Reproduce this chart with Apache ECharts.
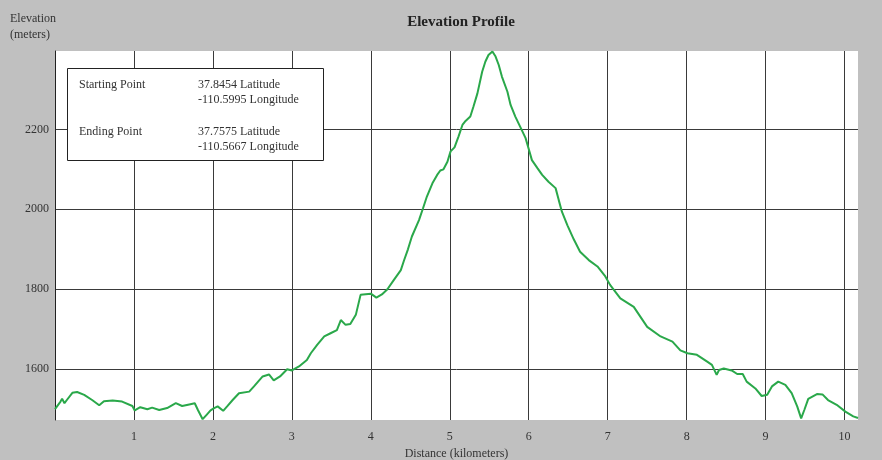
<!DOCTYPE html>
<html>
<head>
<meta charset="utf-8">
<script src="https://cdn.jsdelivr.net/npm/echarts@6/dist/echarts.min.js"></script>
<style>
html,body{margin:0;padding:0;background:#c0c0c0;}
#chart{width:882px;height:460px;}
</style>
</head>
<body>
<div id="chart"></div>
<script>
// Distance along the profile (km)
const distanceKm = [0.00,0.02,0.07,0.09,0.12,0.15,0.22,0.28,0.37,0.47,0.56,0.62,0.73,0.85,0.98,1.01,1.08,1.17,1.23,1.32,1.42,1.53,1.61,1.70,1.77,1.81,1.87,1.92,1.97,2.01,2.06,2.13,2.18,2.25,2.33,2.46,2.52,2.63,2.71,2.77,2.85,2.94,3.00,3.09,3.19,3.24,3.32,3.41,3.49,3.57,3.62,3.68,3.74,3.81,3.87,3.89,4.00,4.07,4.14,4.21,4.29,4.38,4.42,4.47,4.52,4.61,4.66,4.71,4.78,4.84,4.88,4.92,4.97,5.01,5.06,5.11,5.16,5.20,5.26,5.30,5.35,5.41,5.45,5.49,5.54,5.58,5.62,5.66,5.73,5.77,5.83,5.90,5.96,6.01,6.04,6.11,6.17,6.25,6.34,6.38,6.42,6.49,6.57,6.65,6.76,6.87,6.97,7.03,7.16,7.33,7.50,7.67,7.82,7.92,8.01,8.13,8.26,8.32,8.38,8.41,8.47,8.57,8.64,8.71,8.76,8.87,8.95,9.02,9.08,9.16,9.25,9.33,9.40,9.45,9.49,9.54,9.65,9.72,9.79,9.90,10.01,10.11,10.17];
// Elevation (m)
const elevationM = [1500,1502,1519,1526,1515,1523,1541,1543,1536,1523,1510,1520,1522,1519,1508,1497,1505,1500,1504,1498,1503,1515,1508,1512,1515,1498,1475,1486,1497,1502,1507,1496,1507,1523,1540,1544,1557,1582,1587,1572,1582,1600,1597,1607,1623,1640,1661,1682,1690,1698,1723,1711,1713,1736,1786,1790,1789,1779,1787,1800,1823,1848,1872,1900,1932,1973,2002,2032,2065,2086,2097,2100,2119,2145,2155,2182,2211,2221,2232,2257,2290,2344,2369,2386,2395,2382,2361,2332,2294,2261,2232,2203,2178,2144,2123,2103,2086,2069,2053,2023,1994,1960,1925,1894,1873,1857,1832,1811,1777,1756,1706,1682,1669,1647,1640,1636,1619,1611,1586,1598,1602,1597,1588,1588,1569,1552,1533,1536,1557,1569,1561,1540,1507,1477,1498,1526,1538,1537,1523,1511,1494,1482,1478];
// Axis ranges and ticks
const xMin = 0, xMax = 10.17, xStep = 1;
const yMin = 1473, yMax = 2396, yStep = 200;
// Info box text
const infoLabels = ['Starting Point', 'Ending Point'];
const infoLat = ['37.8454 Latitude', '37.7575 Latitude'];
const infoLon = ['-110.5995 Longitude', '-110.5667 Longitude'];

const seriesData = distanceKm.map((d, i) => [d, elevationM[i]]);
const serif = '"Liberation Serif", "DejaVu Serif", serif';
const txt = '#333';

const chart = echarts.init(document.getElementById('chart'));
chart.setOption({
  backgroundColor: '#c0c0c0',
  animation: false,
  title: {
    text: 'Elevation Profile',
    left: 456, top: 10, textAlign: 'center',
    textStyle: { fontFamily: serif, fontSize: 15, fontWeight: 'bold', color: '#222' }
  },
  grid: {
    left: 55, right: 24, top: 51, bottom: 40,
    show: true, backgroundColor: '#ffffff', borderWidth: 0,
    containLabel: false, outerBoundsMode: 'none'
  },
  xAxis: {
    type: 'value', min: xMin, max: xMax, interval: xStep,
    name: 'Distance (kilometers)', nameLocation: 'middle', nameGap: 26,
    nameTextStyle: { fontFamily: serif, fontSize: 12, color: txt },
    axisLine: { show: false },
    axisTick: { show: false },
    axisLabel: {
      fontFamily: serif, fontSize: 12, color: txt, margin: 11,
      formatter: v => (v > 0 && Math.abs(v - Math.round(v)) < 1e-6) ? String(Math.round(v)) : ''
    },
    splitLine: { show: true, showMinLine: true, showMaxLine: false, lineStyle: { color: '#3a3a3a', width: 1 } }
  },
  yAxis: {
    type: 'value', min: yMin, max: yMax,
    axisLine: { show: true, lineStyle: { color: '#222', width: 1 } },
    axisTick: { show: false },
    axisLabel: {
      fontFamily: serif, fontSize: 12, color: txt, margin: 6,
      showMinLabel: false, showMaxLabel: false,
      formatter: v => (v % yStep === 0) ? String(v) : ''
    },
    splitLine: { show: true, showMinLine: false, showMaxLine: false, lineStyle: { color: '#3a3a3a', width: 1 } }
  },
  series: [{
    type: 'line', data: seriesData, showSymbol: false, smooth: false,
    lineStyle: { color: '#2aa84a', width: 2 }
  }],
  graphic: [
    { type: 'text', left: 10, top: 11, style: { text: 'Elevation\n(meters)', fontFamily: serif, fontSize: 12, lineHeight: 16, fill: txt } },
    { type: 'rect', shape: { x: 67.5, y: 68.5, width: 256, height: 92 }, style: { fill: '#ffffff', stroke: '#222', lineWidth: 1 }, z: 100 },
    { type: 'text', x: 79, y: 77, z: 101, style: { text: infoLabels[0], fontFamily: serif, fontSize: 12, lineHeight: 15, fill: txt } },
    { type: 'text', x: 198, y: 77, z: 101, style: { text: infoLat[0] + '\n' + infoLon[0], fontFamily: serif, fontSize: 12, lineHeight: 15, fill: txt } },
    { type: 'text', x: 79, y: 124, z: 101, style: { text: infoLabels[1], fontFamily: serif, fontSize: 12, lineHeight: 15, fill: txt } },
    { type: 'text', x: 198, y: 124, z: 101, style: { text: infoLat[1] + '\n' + infoLon[1], fontFamily: serif, fontSize: 12, lineHeight: 15, fill: txt } }
  ]
});
</script>
</body>
</html>
